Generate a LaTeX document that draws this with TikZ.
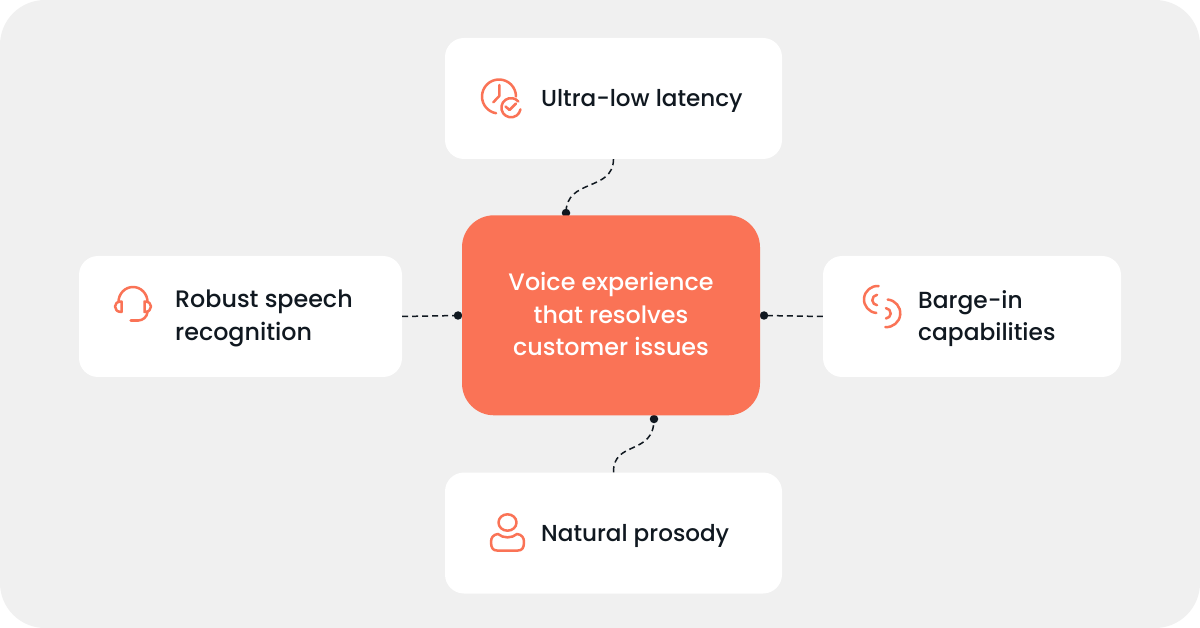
\documentclass[tikz,border=0pt]{standalone}
\usepackage{fontspec}
\setmainfont{Poppins}
\newfontfamily\labelfont{Poppins Medium}
\usetikzlibrary{calc}
\definecolor{panel}{HTML}{F0F0F0}
\definecolor{coral}{HTML}{FA7356}
\definecolor{ink}{HTML}{101820}
\tikzset{
 card/.style={fill=white,draw=none,rounded corners=19pt,inner sep=0pt,minimum height=121pt},
 hub/.style={fill=coral,draw=none,rounded corners=32pt,inner sep=0pt,minimum width=298pt,minimum height=200pt},
 cardtext/.style={font=\labelfont\fontsize{#1}{32.5}\selectfont,text=ink,align=left,anchor=west,inner sep=0pt},
 hubtext/.style={font=\labelfont\fontsize{23.8}{32.5}\selectfont,text=white,align=center,inner sep=0pt},
 linkline/.style={draw=ink,line width=1.5pt,dash pattern=on 6pt off 4pt},
 dotmark/.style={circle,fill=ink,draw=none,inner sep=0pt,minimum size=8.5pt},
 iconline/.style={draw=coral,line width=2.5pt,line cap=round,line join=round,fill=none},
}
\begin{document}
\begin{tikzpicture}[x=1pt,y=-1pt]
\useasboundingbox (0,0) rectangle (1200,628);
\fill[white] (0,0) rectangle (1200,628);
\fill[panel,rounded corners=45pt] (0,0) rectangle (1200,628);
% dots and connectors behind the hub
\node[dotmark] (dtop) at (566,213) {};
\node[dotmark] (dleft) at (458,315.5) {};
\node[dotmark] (dright) at (764,315.5) {};
\node[dotmark] (dbot) at (654,419) {};
\node[card,minimum width=337pt] (top) at (613.5,98.5) {};
\node[card,minimum width=337pt] (bot) at (613.5,533) {};
\node[card,minimum width=323pt] (left) at (240.5,316.5) {};
\node[card,minimum width=298pt] (right) at (972,316.5) {};
\draw[linkline] (top.south) .. controls (613,192) and (566,178) .. (dtop.center);
\draw[linkline] (bot.north) .. controls (613,440) and (654,456) .. (dbot.center);
\draw[linkline] (left.east) -- (dleft.center);
\draw[linkline] (right.west) -- (dright.center);
\node[hub] (hub) at (611,315.3) {};
\node[hubtext] (hubt) at (611,314) {Voice experience\\that resolves\\customer issues};
\node[cardtext=23.1] (t1) at (541,101) {Ultra-low latency};
\node[cardtext=23.8] (t2) at (175,318.5) {Robust speech\\recognition};
\node[cardtext=23.3] (t3) at (918,318.5) {Barge-in\\capabilities};
\node[cardtext=23.1] (t4) at (541,536) {Natural prosody};
% clock icon (angles run clockwise on screen, y points down)
\draw[iconline] (499,96.5) ++(0:17) arc[start angle=0,end angle=-260,radius=17];
\draw[iconline] (499.3,85) -- (499.3,96) -- (493.3,102.3);
\draw[iconline] (511,107.7) ++(10:9.6) arc[start angle=10,end angle=320,radius=9.6];
\draw[iconline] (505.5,106.5) -- (509.5,110) -- (516,103.5);
% headset icon
\draw[iconline] (118.5,302) arc[start angle=180,end angle=360,x radius=14.5,y radius=15];
\draw[iconline] (121.5,301.5) -- (121.5,312) .. controls (117,312) and (115,309.5) .. (115,306.5) .. controls (115,303.5) and (117,301.5) .. (121.5,301.5) -- cycle;
\draw[iconline] (144.5,301.5) -- (144.5,312) .. controls (149,312) and (151,309.5) .. (151,306.5) .. controls (151,303.5) and (149,301.5) .. (144.5,301.5) -- cycle;
\draw[iconline] (147.5,312) .. controls (147,317) and (143,320.5) .. (138,320.5);
\draw[iconline,line width=3.4pt] (138,320.5) -- (131,320.5);
% barge-in icon
\draw[iconline] (877.5,299.5) ++(-85:13.5) arc[start angle=-85,end angle=-265,radius=13.5];
\draw[iconline] (877.5,300) ++(-95:5.2) arc[start angle=-95,end angle=-265,radius=5.2];
\draw[iconline] (886.5,313.3) ++(-85:13.8) arc[start angle=-85,end angle=95,radius=13.8];
\draw[iconline] (885.5,313.3) ++(-85:5.2) arc[start angle=-85,end angle=85,radius=5.2];
% person icon
\draw[iconline] (507.5,522.5) ellipse[x radius=9,y radius=8.2];
\draw[iconline] (498,534) .. controls (503,538.5) and (512,538.5) .. (517,534) .. controls (522,534.5) and (524,538) .. (524,542) .. controls (524,548) and (522,550.5) .. (518,550.5) -- (497,550.5) .. controls (493,550.5) and (491,548) .. (491,542) .. controls (491,538) and (493,534.5) .. (498,534) -- cycle;
\end{tikzpicture}
\end{document}
